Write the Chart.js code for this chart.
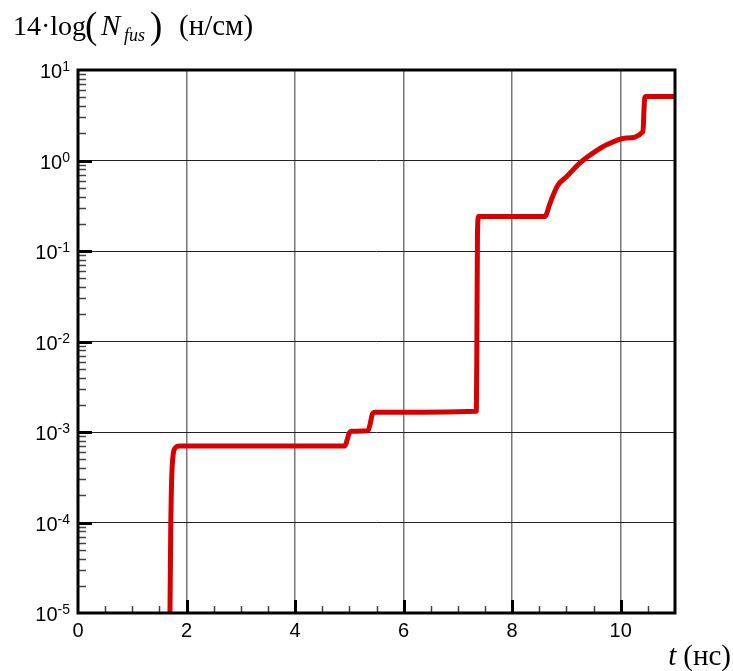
<!DOCTYPE html>
<html><head><meta charset="utf-8">
<script src="https://cdn.jsdelivr.net/npm/chart.js@4"></script>
<style>html,body{margin:0;padding:0;background:#fff}</style>
</head><body>
<canvas id="c" width="733" height="671" style="display:block;width:733px;height:671px"></canvas>
<script>
// ---- data ----
const timeNs = [1.690, 1.695, 1.702, 1.710, 1.720, 1.732, 1.745, 1.760, 1.785, 1.820, 1.880,
  4.920, 4.960, 5.000, 5.040, 5.340, 5.380, 5.420, 5.470, 7.340, 7.350, 7.360, 7.380,
  8.600, 8.700, 8.830, 9.010, 9.250, 9.500, 9.750, 10.100, 10.410, 10.425, 10.440, 10.460, 11.000];
const fusionYield = [1e-6, 1e-5, 3e-5, 1e-4, 2.2e-4, 3.8e-4, 5.0e-4, 6.0e-4, 6.6e-4, 6.9e-4, 7.0e-4,
  7.0e-4, 8.2e-4, 9.8e-4, 1.02e-3, 1.03e-3, 1.2e-3, 1.55e-3, 1.65e-3, 1.70e-3, 0.01, 0.15, 0.24,
  0.24, 0.34, 0.52, 0.67, 0.94, 1.22, 1.50, 1.77, 2.08, 3.2, 4.8, 5.1, 5.1];
const xTickLabels = [0, 2, 4, 6, 8, 10];
const yDecadeExponents = [-5, -4, -3, -2, -1, 0, 1];
const xMin = 0, xMax = 11;

const points = timeNs.map((t, i) => ({x: t, y: fusionYield[i]}));
const isMajorX = v => Math.abs(v / 2 - Math.round(v / 2)) < 1e-9;
const isDecade = v => Math.abs(Math.log10(v) - Math.round(Math.log10(v))) < 1e-9;

const decorPlugin = {
  id: 'decor',
  afterDraw(chart) {
    const {ctx, chartArea: a, scales: {x, y}} = chart;
    ctx.save();
    // x ticks (inside, upward)
    for (let v = xMin + 0.5; v < xMax; v += 0.5) {
      const px = Math.round(x.getPixelForValue(v)) + 0.5;
      ctx.beginPath();
      if (isMajorX(v)) { ctx.lineWidth = 3; ctx.strokeStyle = '#000'; ctx.moveTo(px, a.bottom); ctx.lineTo(px, a.bottom - 13); }
      else { ctx.lineWidth = 1.5; ctx.strokeStyle = '#444'; ctx.moveTo(px, a.bottom); ctx.lineTo(px, a.bottom - 7); }
      ctx.stroke();
    }
    // y ticks (inside, rightward)
    for (let e = yDecadeExponents[0]; e < yDecadeExponents[yDecadeExponents.length - 1]; e++) {
      for (let m = 1; m <= 9; m++) {
        const v = m * Math.pow(10, e);
        if (m === 1 && e === yDecadeExponents[0]) continue;
        const py = Math.round(y.getPixelForValue(v)) + 0.5;
        ctx.beginPath();
        if (m === 1) { ctx.lineWidth = 3; ctx.strokeStyle = '#000'; ctx.moveTo(a.left, py); ctx.lineTo(a.left + 14, py); }
        else { ctx.lineWidth = 1.5; ctx.strokeStyle = '#444'; ctx.moveTo(a.left, py); ctx.lineTo(a.left + 8, py); }
        ctx.stroke();
      }
    }
    // frame
    ctx.lineWidth = 3; ctx.strokeStyle = '#000';
    ctx.strokeRect(a.left, a.top, a.right - a.left, a.bottom - a.top);

    // x labels
    ctx.fillStyle = '#000';
    ctx.font = '20px "Liberation Sans", Arial, sans-serif';
    ctx.textAlign = 'center'; ctx.textBaseline = 'alphabetic';
    xTickLabels.forEach(v => ctx.fillText(String(v), x.getPixelForValue(v), a.bottom + 24));
    // y labels 10^e
    yDecadeExponents.forEach(e => {
      const py = y.getPixelForValue(Math.pow(10, e));
      ctx.textAlign = 'right';
      ctx.font = '14px "Liberation Sans", Arial, sans-serif';
      const exp = String(e);
      ctx.fillText(exp, a.left - 8, py + 1);
      const ew = ctx.measureText(exp).width;
      ctx.font = '20px "Liberation Sans", Arial, sans-serif';
      ctx.fillText('10', a.left - 8 - ew, py + 8);
    });

    // y title
    ctx.textAlign = 'left';
    const base = 35;
    const at = (txt, font, px, dy) => { ctx.font = font; ctx.fillText(txt, px, base + (dy || 0)); };
    at('14·log', '28px "Liberation Serif", serif', 13);
    at('(', '37px "Liberation Serif", serif', 85, 3);
    at('N', 'italic 29px "Liberation Serif", serif', 101);
    at('fus', 'italic 18px "Liberation Serif", serif', 124, 6);
    at(')', '37px "Liberation Serif", serif', 150, 3);
    at('(н/см)', '29px "Liberation Serif", serif', 179);

    // x title
    ctx.textAlign = 'right';
    ctx.font = '29px "Liberation Serif", serif';
    ctx.fillText('(нс)', 731, 665);
    const w = ctx.measureText('(нс)').width;
    ctx.font = 'italic 29px "Liberation Serif", serif';
    ctx.fillText('t', 731 - w - 7, 665);
    ctx.restore();
  }
};

new Chart(document.getElementById('c'), {
  type: 'line',
  data: { datasets: [{
    data: points,
    borderColor: '#d40000',
    borderWidth: 5,
    pointRadius: 0,
    fill: false,
    cubicInterpolationMode: 'monotone',
    borderJoinStyle: 'round'
  }]},
  options: {
    responsive: false,
    devicePixelRatio: 1,
    animation: false,
    events: [],
    layout: { padding: { left: 78, top: 70, right: 58, bottom: 58 } },
    plugins: { legend: { display: false }, tooltip: { enabled: false }, title: { display: false } },
    scales: {
      x: {
        type: 'linear', min: xMin, max: xMax,
        afterBuildTicks: s => { const t = []; for (let v = xMin; v <= xMax + 1e-9; v += 0.5) t.push({value: v}); s.ticks = t; },
        afterFit: s => { s.height = 0; },
        ticks: { display: false },
        border: { display: false },
        grid: { drawTicks: false, lineWidth: 1.5,
          color: c => (c.tick && isMajorX(c.tick.value) && c.tick.value > xMin && c.tick.value < xMax) ? '#777' : 'rgba(0,0,0,0)' }
      },
      y: {
        type: 'logarithmic', min: 1e-5, max: 10,
        afterBuildTicks: s => { const t = []; yDecadeExponents.forEach(e => t.push({value: Math.pow(10, e)})); s.ticks = t; },
        afterFit: s => { s.width = 0; },
        ticks: { display: false },
        border: { display: false },
        grid: { drawTicks: false, lineWidth: 1,
          color: c => (c.tick && isDecade(c.tick.value) && c.tick.value > 1e-5 && c.tick.value < 10) ? '#222' : 'rgba(0,0,0,0)' }
      }
    }
  },
  plugins: [decorPlugin]
});
</script>
</body></html>
